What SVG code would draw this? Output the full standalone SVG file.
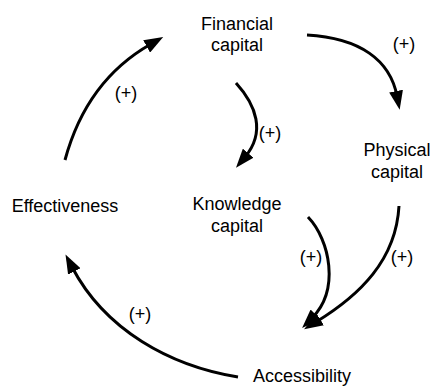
<svg xmlns="http://www.w3.org/2000/svg" width="433" height="387" viewBox="0 0 433 387">
  <style>
    .lbl { font-family: "Liberation Sans", Arial, sans-serif; font-size: 18px; fill: #000; text-anchor: middle; }
    .sign { font-family: "Liberation Sans", Arial, sans-serif; font-size: 18px; fill: #000; text-anchor: middle; }
    .link { fill: none; stroke: #000; stroke-width: 3; marker-end: url(#head); }
  </style>
  <defs>
    <!-- filled arrowhead shared by every link -->
    <marker id="head" markerUnits="userSpaceOnUse" markerWidth="20" markerHeight="14" refX="5" refY="7" orient="auto">
      <path d="M0,0 L19,7 L0,14 z" fill="#000"/>
    </marker>
  </defs>
  <rect width="433" height="387" fill="#fff"/>

  <g id="financial">
    <text class="lbl" x="237" y="30">Financial</text>
    <text class="lbl" x="237" y="51">capital</text>
  </g>
  <g id="physical">
    <text class="lbl" x="397" y="156">Physical</text>
    <text class="lbl" x="397" y="178">capital</text>
  </g>
  <g id="knowledge">
    <text class="lbl" x="237" y="210">Knowledge</text>
    <text class="lbl" x="237" y="232">capital</text>
  </g>
  <g id="effectiveness">
    <text class="lbl" x="65" y="212">Effectiveness</text>
  </g>
  <g id="accessibility">
    <text class="lbl" x="302" y="382">Accessibility</text>
  </g>

  <g id="connectors">
    <path class="link" d="M65,160 C78,112 105,70 151,44"/>
    <path class="link" d="M307,35 C360,38 390,60 397,96"/>
    <path class="link" d="M236,83 C256,105 266,132 245,157"/>
    <path class="link" d="M308,217 C330,240 340,290 312,318"/>
    <path class="link" d="M399,206 C396,260 360,295 316,322"/>
    <path class="link" d="M238,377 C170,366 105,330 72,267"/>
    <text class="sign" x="404" y="50">(+)</text>
    <text class="sign" x="126" y="99">(+)</text>
    <text class="sign" x="270" y="139">(+)</text>
    <text class="sign" x="311" y="263">(+)</text>
    <text class="sign" x="402" y="263">(+)</text>
    <text class="sign" x="140" y="320">(+)</text>
  </g>
</svg>
